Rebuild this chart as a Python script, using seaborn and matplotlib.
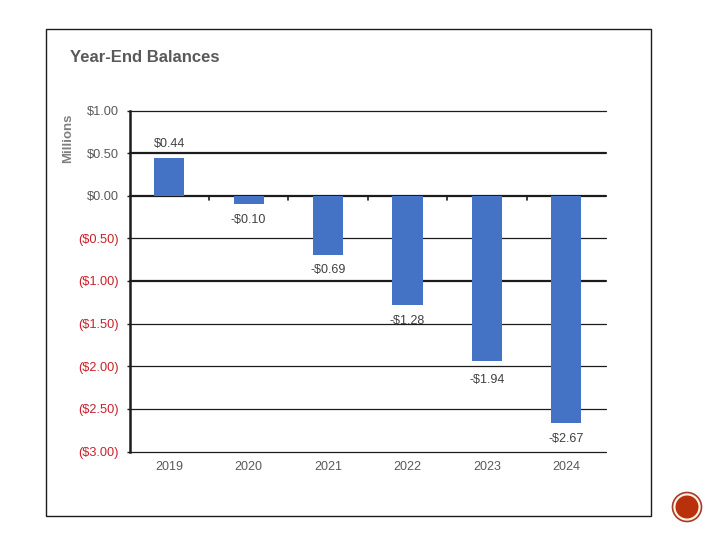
import matplotlib
matplotlib.use('Agg')
import pandas as pd
import seaborn as sns
import matplotlib.pyplot as plt
from matplotlib.patches import Rectangle, Circle

years = ['2019', '2020', '2021', '2022', '2023', '2024']
balances = [0.44, -0.10, -0.69, -1.28, -1.94, -2.67]
bar_labels = ['$0.44', '-$0.10', '-$0.69', '-$1.28', '-$1.94', '-$2.67']
tick_vals = [1.0, 0.5, 0.0, -0.5, -1.0, -1.5, -2.0, -2.5, -3.0]
tick_labels = ['$1.00', '$0.50', '$0.00', '($0.50)', '($1.00)', '($1.50)', '($2.00)', '($2.50)', '($3.00)']
thick_lines = [0.5, 0.0, -1.0]

W, H = 720, 540
sns.set_theme(style='white')
plt.rcParams['font.family'] = ['Liberation Sans', 'DejaVu Sans']

fig = plt.figure(figsize=(7.2, 5.4), dpi=100)
ax = fig.add_axes([129.5 / W, 1 - 451.5 / H, (606 - 129.5) / W, (451.5 - 110.5) / H])

df = pd.DataFrame({'year': years, 'balance': balances})
sns.barplot(data=df, x='year', y='balance', color='#4472C4', saturation=1, width=0.38,
            linewidth=0, ax=ax, zorder=3)

ax.set_xlim(-0.5, 5.5)
ax.set_ylim(-3, 1)
ax.set_xlabel('')
ax.set_ylabel('')

# gridlines, a few of them are heavier in the picture
for v in tick_vals:
    lw = 1.6 if v in thick_lines else 0.9
    ax.axhline(v, color='#1c1c1c', lw=lw, zorder=2, clip_on=False)

sns.despine(ax=ax, top=True, right=True, bottom=True)
ax.spines['left'].set_linewidth(1.8)
ax.spines['left'].set_color('#1c1c1c')

ax.set_yticks(tick_vals)
ax.set_yticklabels(tick_labels, fontsize=9.2)
for lab, v in zip(ax.get_yticklabels(), tick_vals):
    lab.set_color('#c8202c' if v < 0 else '#595959')
ax.tick_params(axis='y', left=True, length=2.5, width=1, color='#1c1c1c', pad=5)
ax.tick_params(axis='x', bottom=False, labelsize=9, labelcolor='#595959', pad=1)

# small ticks between categories on the zero line
for i in range(5):
    ax.plot([i + 0.5, i + 0.5], [0, -0.05], color='#1c1c1c', lw=1.2, zorder=2)

for i, (v, s) in enumerate(zip(balances, bar_labels)):
    off = 6 if v > 0 else -7
    if s == '-$1.94':
        off = -9
    ax.annotate(s, (i, v), xytext=(0, off), textcoords='offset points', ha='center',
                va='bottom' if v > 0 else 'top', fontsize=9, color='#404040', zorder=4)

fig.text(68.5 / W, 1 - 138 / H, 'Millions', rotation=90, ha='center', va='center',
         fontsize=9.5, fontweight='bold', color='#7f7f7f')
fig.text(70 / W, 1 - 58 / H, 'Year-End Balances', ha='left', va='center', fontsize=12,
         fontweight='bold', color='#595959')

# slide frame and the round badge
fig.add_artist(Rectangle((46 / W, 1 - 516 / H), 605 / W, 487 / H, transform=fig.transFigure,
                         fill=False, ec='#1c1c1c', lw=1.0))
bg = fig.add_axes([0, 0, 1, 1], zorder=5)
bg.set_xlim(0, W)
bg.set_ylim(H, 0)
bg.axis('off')
bg.patch.set_alpha(0)
bg.add_patch(Circle((687, 507), 14.5, fc='#fdf3e0', ec='#a83a2a', lw=1.2))
bg.add_patch(Circle((687, 507), 11.5, fc='#b9300c', ec='none'))

fig.savefig('out.png', dpi=100)
